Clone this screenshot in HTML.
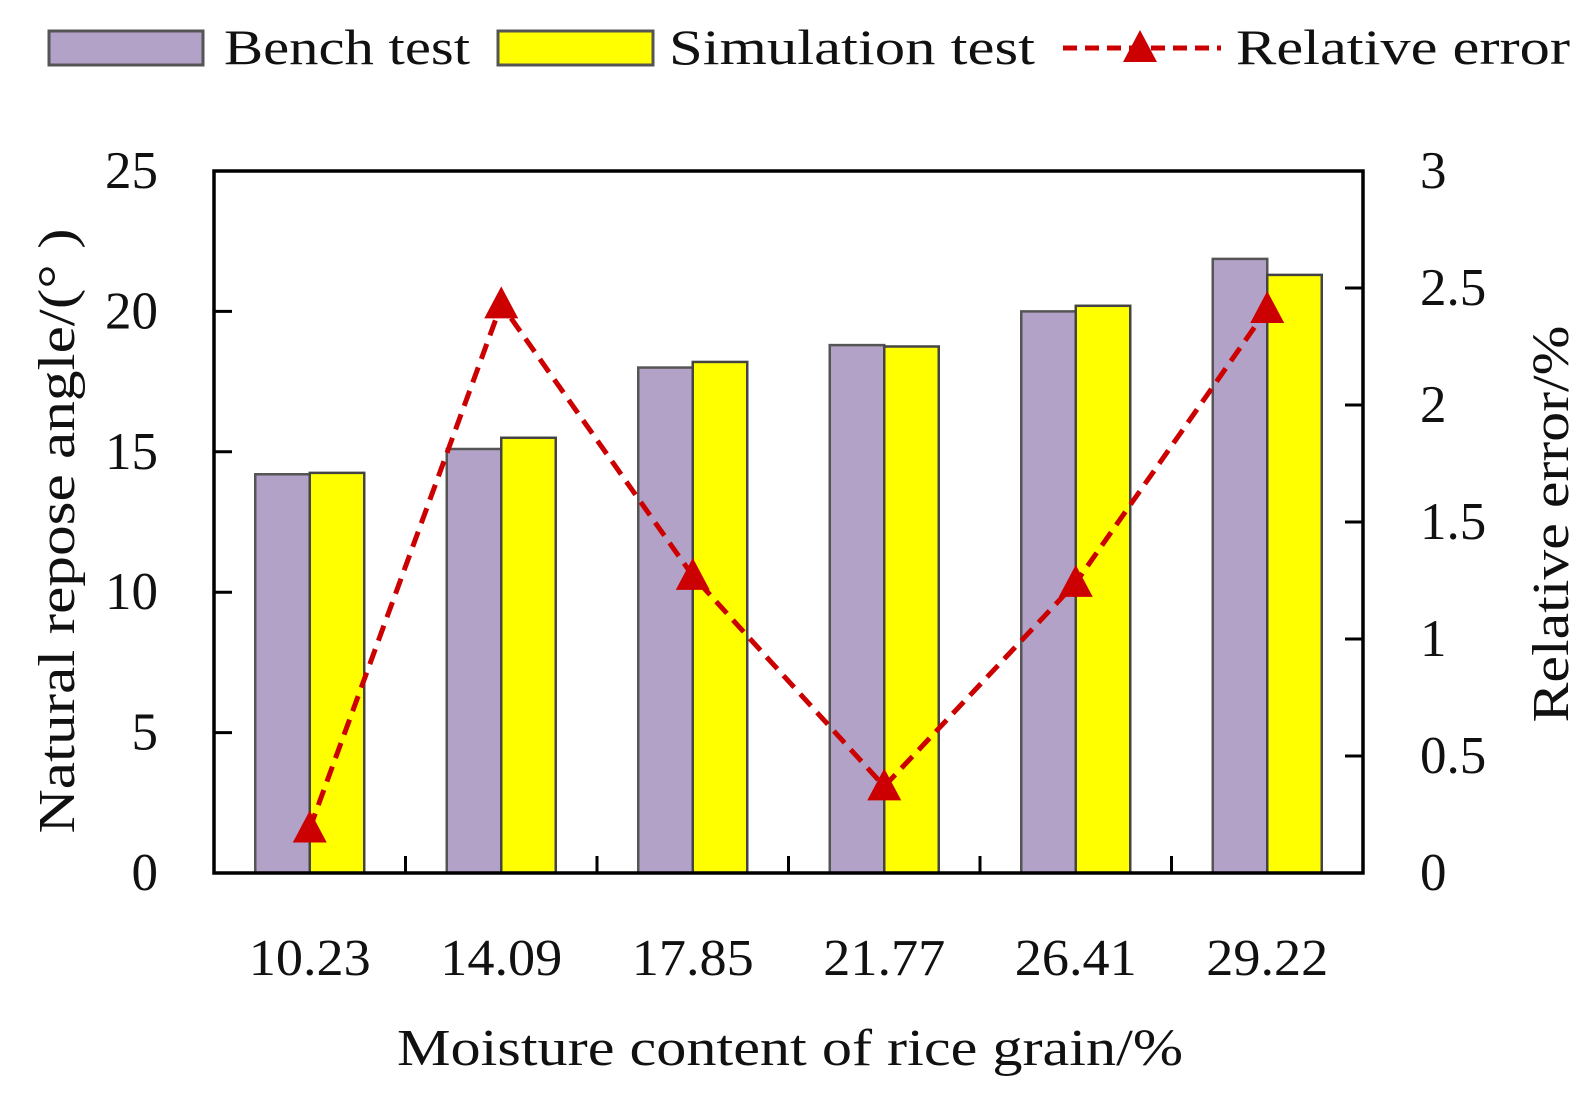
<!DOCTYPE html>
<html><head><meta charset="utf-8"><style>
body{margin:0;background:#fff}
svg text{font-family:"Liberation Serif",serif;fill:#111}
</style></head><body>
<svg id="chart" width="1593" height="1096" viewBox="0 0 1593 1096" xmlns="http://www.w3.org/2000/svg">
<g id="legend">
<rect x="49" y="31" width="154" height="34" fill="#b3a2c8" stroke="#555" stroke-width="3"/>
<text x="224" y="64" font-size="50" textLength="246" lengthAdjust="spacingAndGlyphs">Bench test</text>
<rect x="498" y="31" width="155" height="34" fill="#ffff00" stroke="#555" stroke-width="3"/>
<text x="669" y="64" font-size="50" textLength="366" lengthAdjust="spacingAndGlyphs">Simulation test</text>
<line x1="1063" y1="48" x2="1221" y2="48" stroke="#cc0000" stroke-width="5" stroke-dasharray="14,8"/>
<polygon points="1140,30 1123,62 1157,62" fill="#cc0000"/>
<text x="1236" y="64" font-size="50" textLength="334" lengthAdjust="spacingAndGlyphs">Relative error</text>
</g>
<g id="plot"></g>
<text x="790" y="1065" font-size="52" text-anchor="middle" textLength="786" lengthAdjust="spacingAndGlyphs">Moisture content of rice grain/%</text>
<text transform="translate(74,531) rotate(-90)" font-size="52" text-anchor="middle" textLength="605" lengthAdjust="spacingAndGlyphs">Natural repose angle/(° )</text>
<text transform="translate(1568,524) rotate(-90)" font-size="52" text-anchor="middle" textLength="397" lengthAdjust="spacingAndGlyphs">Relative error/%</text>
</svg>
<script>
const categories=["10.23","14.09","17.85","21.77","26.41","29.22"];
const benchValues=[14.2,15.1,18.0,18.8,20.0,21.87];
const simValues=[14.25,15.5,18.2,18.75,20.2,21.3];
const errorValues=[0.19,2.43,1.27,0.37,1.24,2.41];
const leftTicks=[0,5,10,15,20,25];
const rightTicks=["0","0.5","1","1.5","2","2.5","3"];
const NS="http://www.w3.org/2000/svg";
const L=214,R=1363,T=171,B=873;
const band=(R-L)/categories.length;
const yL=v=>B-(v/25)*(B-T);
const yR=v=>B-(v/3)*(B-T);
const xC=i=>L+band*(i+0.5);
const g=document.getElementById('plot');
function mk(tag,attrs){const e=document.createElementNS(NS,tag);for(const k in attrs)e.setAttribute(k,attrs[k]);g.appendChild(e);return e;}
const bw=54.5;
categories.forEach((c,i)=>{
  const b=mk('rect',{x:xC(i)-bw,y:yL(benchValues[i]),width:bw,height:B-yL(benchValues[i]),fill:'#b3a2c8',stroke:'#555','stroke-width':2.5});
  
  
  const s=mk('rect',{x:xC(i),y:yL(simValues[i]),width:bw,height:B-yL(simValues[i]),fill:'#ffff00',stroke:'#444','stroke-width':2.5});
  
  
  const t=mk('text',{x:xC(i),y:975,'font-size':52,'text-anchor':'middle',textLength:122,lengthAdjust:'spacingAndGlyphs'});
  t.textContent=c;
  
  
  if(i>0){const tk=mk('line',{x1:L+band*i,x2:L+band*i,y1:B,y2:B-17,stroke:'#000','stroke-width':3});
  
  }
});
const pts=errorValues.map((v,i)=>xC(i)+','+yR(v)).join(' ');
const line=mk('polyline',{points:pts,fill:'none',stroke:'#cc0000','stroke-width':5,'stroke-dasharray':'16,9'});


errorValues.forEach((v,i)=>{
  const x=xC(i),y=yR(v);
  const p=mk('polygon',{points:`${x},${y-18} ${x-17},${y+14} ${x+17},${y+14}`,fill:'#cc0000'});
  
  
});
const frame=mk('rect',{x:L,y:T,width:R-L,height:B-T,fill:'none',stroke:'#000','stroke-width':3.5});


leftTicks.forEach(v=>{
  const y=yL(v);
  const tk=mk('line',{x1:L,x2:L+18,y1:y,y2:y,stroke:'#000','stroke-width':3});
  
  
  const t=mk('text',{x:158,y:y+17,'font-size':53,'text-anchor':'end'});
  t.textContent=v;
  
  
});
rightTicks.forEach(v=>{
  const y=yR(parseFloat(v));
  const tk=mk('line',{x1:R-18,x2:R,y1:y,y2:y,stroke:'#000','stroke-width':3});
  
  
  const t=mk('text',{x:1420,y:y+17,'font-size':53});
  t.textContent=v;
  
  
});
</script>
</body></html>
